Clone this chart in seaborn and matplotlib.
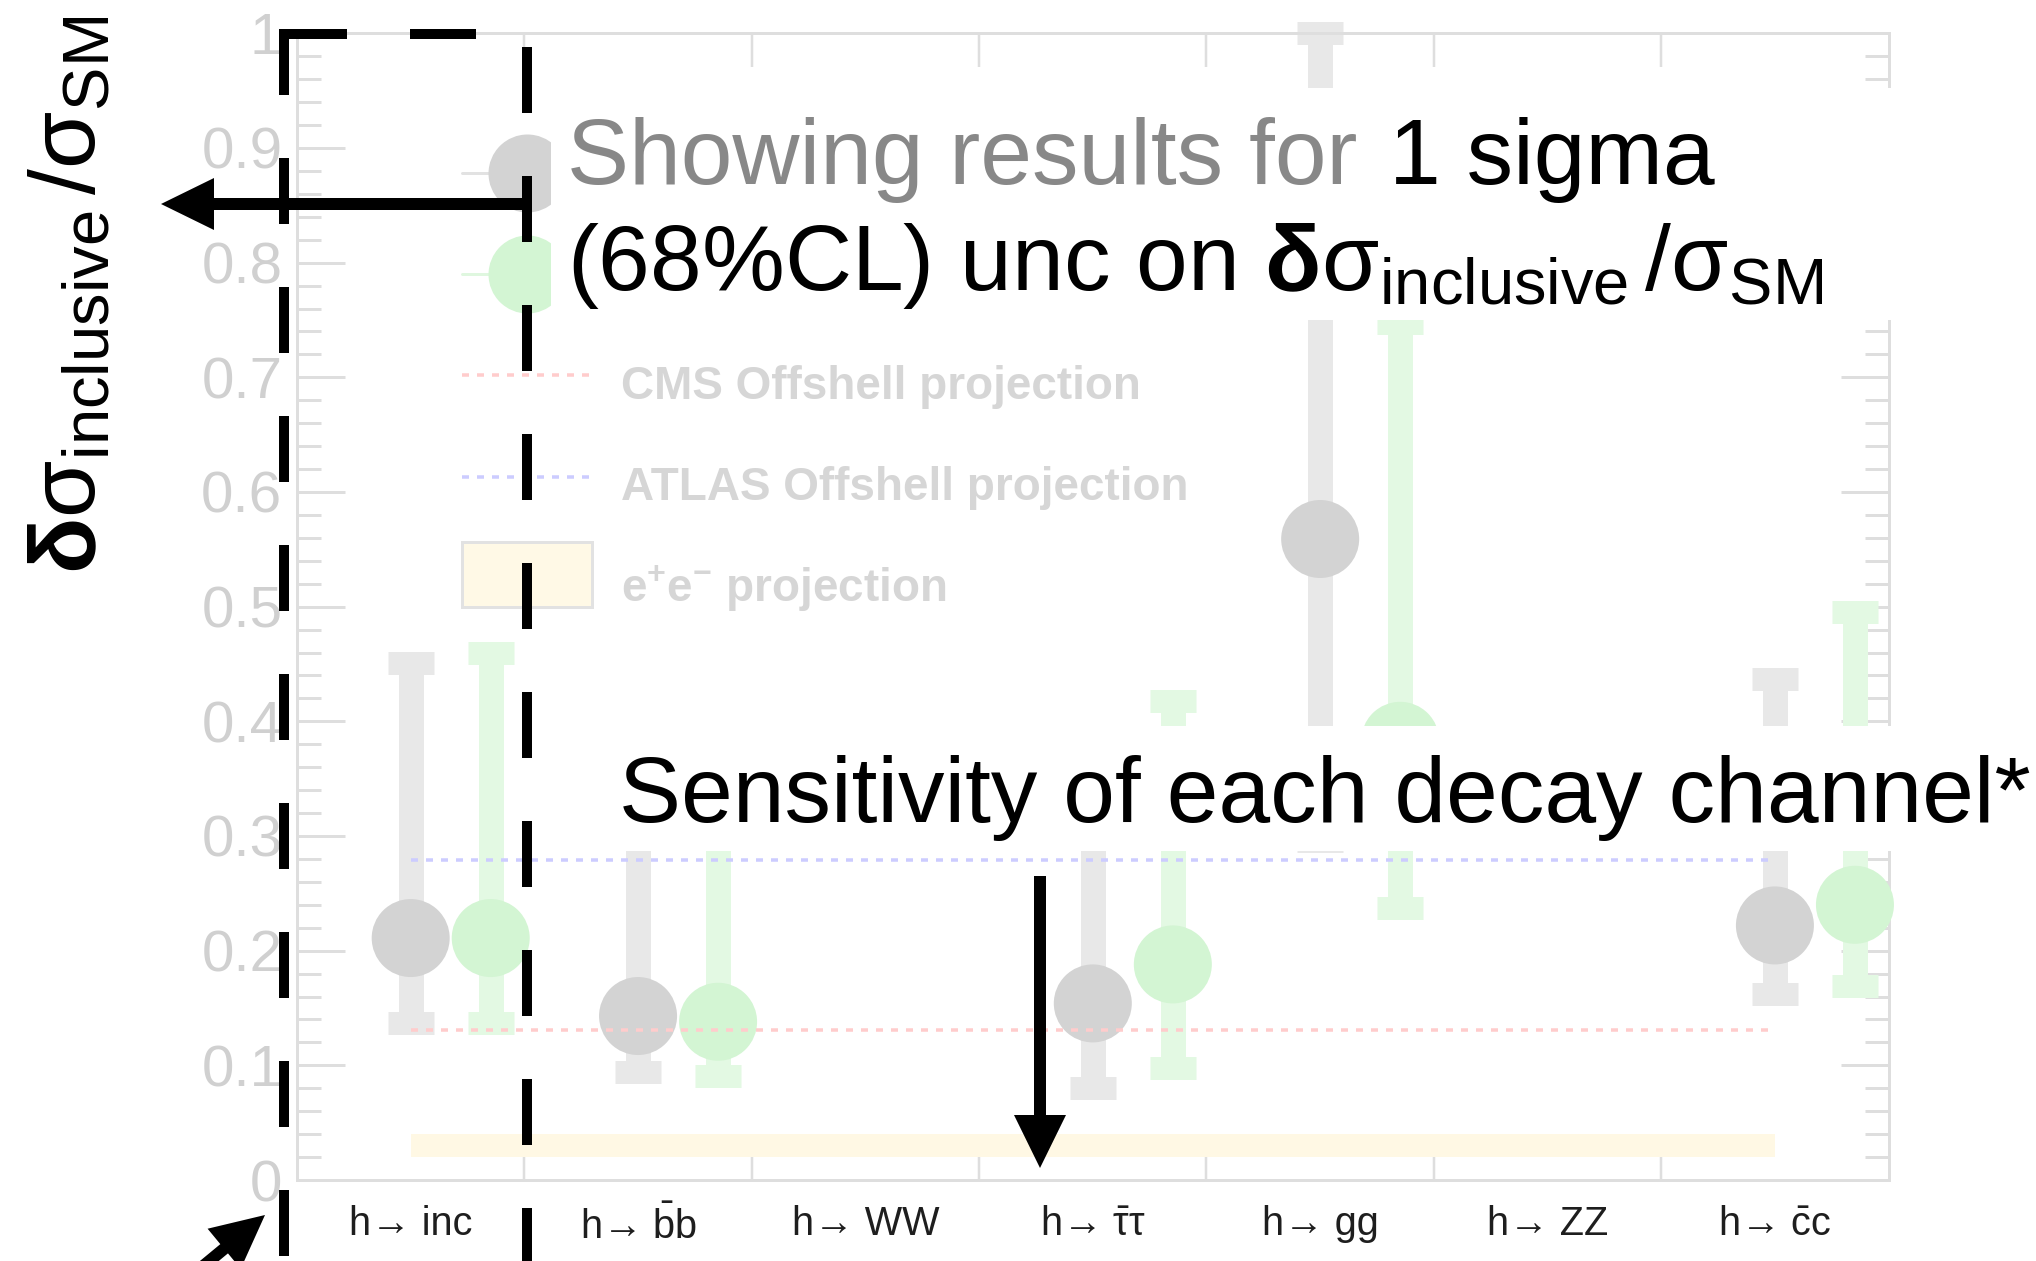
import numpy as np
import pandas as pd
import matplotlib
matplotlib.use("Agg")
import matplotlib.pyplot as plt
import seaborn as sns
from matplotlib.lines import Line2D
from matplotlib.patches import Rectangle, FancyArrow
from matplotlib.transforms import Affine2D
from matplotlib.ticker import MultipleLocator, FixedLocator
from matplotlib.legend_handler import HandlerPatch

# ---------------- data ----------------
channels = ["inc", "bb", "WW", "tautau", "gg", "ZZ", "cc"]
tick_labels = ["h→ inc", r"h→ $\bar{\mathrm{b}}\mathrm{b}$", "h→ WW",
               r"h→ $\bar{\mathrm{τ}}\mathrm{τ}$", "h→ gg", "h→ ZZ",
               r"h→ $\bar{\mathrm{c}}\mathrm{c}$"]
nan = np.nan
grey_val = [0.211, 0.143, nan, 0.154, 0.559, nan, 0.222]
grey_lo = [0.137, 0.094, nan, 0.080, 0.296, nan, 0.162]
grey_hi = [0.451, 0.340, nan, 0.360, 1.000, nan, 0.437]
green_val = [0.211, 0.138, nan, 0.188, 0.383, nan, 0.240]
green_lo = [0.137, 0.091, nan, 0.098, 0.237, nan, 0.169]
green_hi = [0.460, 0.350, nan, 0.418, 0.747, nan, 0.495]
cms_offshell = 0.131
atlas_offshell = 0.279
ee_band = [0.020, 0.040]
ytick_vals = [0, 0.1, 0.2, 0.3, 0.4, 0.5, 0.6, 0.7, 0.8, 0.9, 1.0]
ytick_text = ["0", "0.1", "0.2", "0.3", "0.4", "0.5", "0.6", "0.7", "0.8", "0.9", "1"]

# ---------------- style ----------------
sns.set_style("white")
plt.rcParams["font.family"] = ["Liberation Sans", "DejaVu Sans"]
plt.rcParams["mathtext.fontset"] = "custom"
plt.rcParams["mathtext.rm"] = "Liberation Sans"
plt.rcParams["mathtext.bf"] = "Liberation Sans:bold"
plt.rcParams["mathtext.it"] = "Liberation Sans:italic"
plt.rcParams["mathtext.sf"] = "Liberation Sans"
plt.rcParams["lines.scale_dashes"] = False

W, H = 2036, 1261
fig = plt.figure(figsize=(W / 100, H / 100), dpi=100)
fig.patch.set_facecolor("white")
# pixel transform with origin at top-left of the figure
pxT = Affine2D().scale(1.0 / W, -1.0 / H).translate(0, 1) + fig.transFigure
PT = 0.72  # points per pixel at dpi 100

ax = fig.add_axes([297 / W, (H - 1180) / H, 1591.6 / W, 1146.7 / H])
ax.set_facecolor("white")

GREY_M, GREY_BAR, GREY_CAP = "#d3d3d3", "#e8e8e8", "#d6d6d6"
GREEN_M, GREEN_BAR, GREEN_CAP = "#d3f5d3", "#e3f9e3", "#d3f5d4"
x = np.arange(len(channels), dtype=float)
offset = 0.352

# e+e- band
ax.fill_between([0, 6], ee_band[0], ee_band[1], color="#fff8e4", lw=0, zorder=1)

series = [("grey", grey_val, grey_lo, grey_hi, 0.0, GREY_BAR, GREY_CAP, GREY_M),
          ("green", green_val, green_lo, green_hi, offset, GREEN_BAR, GREEN_CAP, GREEN_M)]
rows = []
for name, v, lo, hi, off, bc, cc, mc in series:
    v = np.array(v); lo = np.array(lo); hi = np.array(hi)
    m = ~np.isnan(v)
    eb = ax.errorbar(x[m] + off, v[m], yerr=[v[m] - lo[m], hi[m] - v[m]], fmt="none",
                     ecolor=bc, elinewidth=25 * PT, capsize=23.5 * PT, capthick=23 * PT,
                     zorder=2)
    for c in eb[1]:
        c.set_color(cc)
        c.set_clip_on(False)
    for c in eb[2]:
        c.set_clip_on(False)
    for xi, vi in zip(x[m] + off, v[m]):
        rows.append({"xpos": xi, "value": vi, "series": name})
df = pd.DataFrame(rows)
sns.scatterplot(data=df, x="xpos", y="value", hue="series",
                palette={"grey": GREY_M, "green": GREEN_M}, s=(78 * PT) ** 2,
                edgecolor="none", legend=False, ax=ax, zorder=3, clip_on=False)

dot = (0, (7 * PT, 8 * PT))
ax.hlines(cms_offshell, 0, 6, colors="#ffcccc", linestyles=[dot], lw=3.5 * PT, zorder=4)
ax.hlines(atlas_offshell, 0, 6, colors="#ccccff", linestyles=[dot], lw=3.5 * PT, zorder=4)

# axes cosmetics
ax.set_xlim(-0.5, 6.5)
ax.set_ylim(0, 1)
ax.set_xlabel("")
ax.set_ylabel("")
ax.set_xticks(x)
ax.set_xticklabels(tick_labels)
ax.xaxis.set_minor_locator(FixedLocator(np.arange(0.5, 6.0, 1.0)))
ax.set_yticks(ytick_vals)
ax.set_yticklabels(ytick_text)
ax.yaxis.set_minor_locator(MultipleLocator(0.02))
for s in ax.spines.values():
    s.set_visible(True)
    s.set_color("#dedede")
    s.set_linewidth(3 * PT)
TC = "#dedede"
ax.tick_params(axis="x", which="major", length=0, pad=18, labelsize=28.5, labelcolor="#1e1e1e")
ax.tick_params(axis="x", which="minor", length=34 * PT, width=2.5 * PT, color=TC,
               direction="in", top=True, bottom=True)
ax.tick_params(axis="y", which="major", length=48 * PT, width=3 * PT, color=TC,
               direction="in", left=True, right=True, labelsize=42, labelcolor="#d0d0d0",
               pad=10.5)
ax.tick_params(axis="y", which="minor", length=24 * PT, width=3 * PT, color=TC,
               direction="in", left=True, right=True)


# legend (first two labels are hidden under the overlay text box)
def raised_box(legend, orig_handle, xdescent, ydescent, width, height, fontsize):
    return Rectangle((-xdescent, -ydescent + 9), width, height)


handles = [
    Line2D([], [], color="#e2e2e2", lw=3 * PT, marker="o", markersize=78 * PT,
           markerfacecolor=GREY_M, markeredgecolor="none"),
    Line2D([], [], color="#dff7df", lw=3 * PT, marker="o", markersize=78 * PT,
           markerfacecolor=GREEN_M, markeredgecolor="none"),
    Line2D([], [], color="#ffcccc", lw=3.5 * PT, linestyle=dot),
    Line2D([], [], color="#ccccff", lw=3.5 * PT, linestyle=dot),
    Rectangle((0, 0), 1, 1, facecolor="#fff9e6", edgecolor="#e2e2e2", lw=3 * PT),
]
labels = ["", "", "CMS Offshell projection", "ATLAS Offshell projection",
          r"$\mathbf{e^{+}e^{-}}$ projection"]
leg = ax.legend(handles, labels, loc="upper left", bbox_to_anchor=(462, 149),
                bbox_transform=pxT, frameon=False,
                prop={"weight": "bold", "size": 33, "family": ["Liberation Sans", "DejaVu Sans"]},
                handlelength=2.84, handleheight=1.81, handletextpad=0.63,
                labelspacing=0.79, borderpad=0, borderaxespad=0,
                handler_map={Rectangle: HandlerPatch(patch_func=raised_box)})
for t in leg.get_texts():
    t.set_color("#d6d6d6")

# ---------------- overlay annotations ----------------
fig.add_artist(Rectangle((551, 88), 1370, 232, transform=pxT, facecolor="white",
                         edgecolor="none", zorder=5))
fig.add_artist(Rectangle((600, 726), 1440, 125, transform=pxT, facecolor="white",
                         edgecolor="none", zorder=5))

FS = 67
SIG = r"$\mathbf{δ}\mathrm{σ}_{\mathrm{inclusive}}\,/\mathrm{σ}_{\mathrm{SM}}$"
fig.text(567, 184, "Showing results for", transform=pxT, fontsize=FS, color="#888888",
         ha="left", va="baseline", zorder=6)
fig.text(1389, 184, "1 sigma", transform=pxT, fontsize=FS, color="black",
         ha="left", va="baseline", zorder=6)
fig.text(567, 290, "(68%CL) unc on " + SIG,
         transform=pxT, fontsize=FS, color="black", ha="left", va="baseline", zorder=6)
fig.text(619, 822, "Sensitivity of each decay channel*", transform=pxT, fontsize=FS,
         color="black", ha="left", va="baseline", zorder=6)
fig.text(96, 574, SIG, transform=pxT, fontsize=FS, color="black", rotation=90,
         rotation_mode="anchor", ha="left", va="baseline", zorder=6)

# dashed selection frame
DLW = 10 * PT
dash = (0, (66 * PT, 63 * PT))
for xs, ys in [([284, 284], [29, 1300]), ([281, 527], [34, 34]), ([527, 527], [47, 1300])]:
    fig.add_artist(Line2D(xs, ys, transform=pxT, color="black", lw=DLW,
                          linestyle=dash, dash_capstyle="butt", zorder=7))

# arrows
for (x0, y0, x1, y1) in [(527, 204, 161, 204), (1040, 876, 1040, 1168),
                         (150, 1310, 265, 1215)]:
    fig.add_artist(FancyArrow(x0, y0, x1 - x0, y1 - y0, width=12, head_width=52,
                              head_length=53, length_includes_head=True,
                              transform=pxT, color="black", lw=0, zorder=7))

fig.savefig("out.png", dpi=100, facecolor="white")
